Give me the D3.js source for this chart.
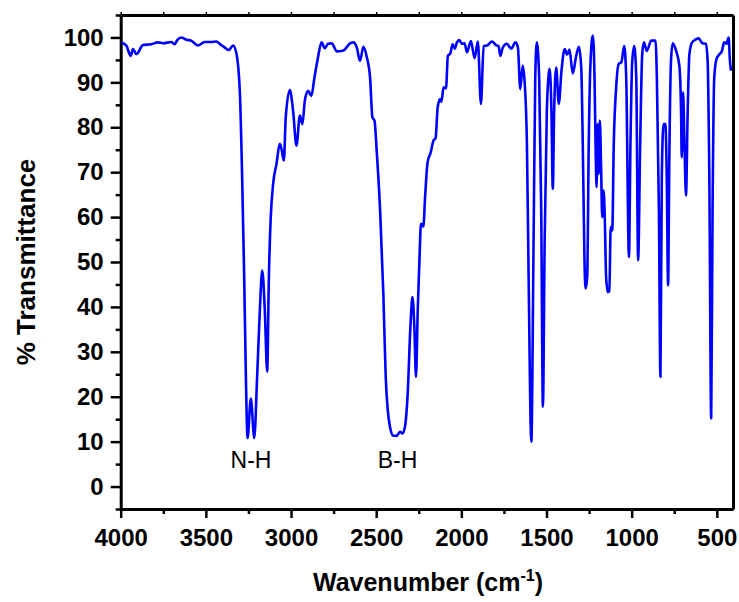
<!DOCTYPE html>
<html>
<head>
<meta charset="utf-8">
<script src="https://cdn.jsdelivr.net/npm/d3@7"></script>
<style>
  body { margin: 0; background: #fff; }
  svg { display: block; font-family: "Liberation Sans", Arial, sans-serif; }
  .axis text { font-size: 24px; font-weight: bold; fill: #000; }
  .axis path, .axis line { stroke: #000; }
</style>
</head>
<body>
<svg width="739" height="602"></svg>
<script>
// IR spectrum (wavenumber in cm-1, % transmittance)
var wavenumber = [
  3996, 3967, 3941, 3928, 3908, 3869, 3820, 3781, 3752, 3703, 3683, 3668, 3644, 3615, 3586,
  3547, 3507, 3469, 3439, 3410, 3390, 3365, 3340, 3320, 3300, 3287, 3275, 3265, 3255, 3236,
  3216, 3199, 3183, 3169, 3154, 3140, 3130, 3119, 3105, 3085, 3066, 3056, 3042, 3031, 3007,
  2988, 2968, 2948, 2933, 2919, 2900, 2880, 2864, 2845, 2821, 2802, 2782, 2761, 2731, 2692,
  2653, 2633, 2614, 2595, 2575, 2555, 2536, 2522, 2510, 2497, 2477, 2458, 2444, 2432, 2419,
  2399, 2380, 2360, 2346, 2331, 2315, 2299, 2287, 2276, 2266, 2256, 2246, 2237, 2223, 2213,
  2198, 2180, 2164, 2151, 2139, 2125, 2117, 2104, 2090, 2079, 2065, 2051, 2039, 2026, 2012,
  1996, 1981, 1967, 1944, 1922, 1903, 1885, 1869, 1850, 1820, 1797, 1781, 1771, 1758, 1733,
  1707, 1683, 1668, 1654, 1640, 1629, 1615, 1605, 1589, 1576, 1566, 1557, 1543, 1531, 1521,
  1511, 1498, 1488, 1482, 1471, 1463, 1455, 1443, 1428, 1412, 1393, 1379, 1365, 1346, 1326,
  1310, 1296, 1287, 1277, 1271, 1261, 1252, 1242, 1228, 1218, 1212, 1206, 1200, 1194, 1187,
  1179, 1173, 1165, 1158, 1150, 1140, 1131, 1123, 1114, 1105, 1091, 1076, 1060, 1044, 1032,
  1016, 1007, 997, 985, 973, 962, 950, 938, 928, 911, 885, 860, 852, 840, 831,
  823, 813, 802, 794, 786, 779, 769, 759, 739, 720, 710, 706, 698, 690, 681,
  671, 661, 645, 622, 607, 584, 564, 554, 544, 533, 525, 515, 502, 486, 470,
  457, 443, 431, 423, 417
];
var transmittance = [
  98.9, 98.2, 95.9, 97.4, 96.3, 98.3, 98.5, 98.9, 98.7, 99.0, 98.5, 99.4, 100, 99.5, 99.3,
  98.2, 99.0, 99.0, 99.1, 98.3, 97.8, 97.2, 98.2, 96.3, 87.4, 68.9, 46.7, 24.4, 10.8, 19.6,
  10.8, 24.4, 39.3, 48.1, 39.3, 25.6, 46.7, 60, 67.4, 71.9, 76.3, 75.2, 72.6, 82.2, 88.3,
  83.7, 75.9, 82.6, 80.7, 85.9, 88.1, 87, 90.7, 94.8, 98.9, 97.6, 98.6, 98.7, 96.9, 97.1,
  98.7, 98.9, 97.8, 94.8, 97.9, 95.6, 91.1, 82.2, 81.5, 74.8, 61.5, 43, 24.4, 17, 13.3,
  11.3, 11.3, 12.2, 11.8, 13.3, 20.7, 35.6, 42.2, 35.6, 24.4, 39.3, 50.4, 58.5, 57.9, 64.4,
  72.2, 74.4, 77, 77.6, 84.4, 86.3, 85.7, 88.9, 88.7, 95.9, 96.4, 98.5, 97.5, 98.9, 99.4,
  98.6, 98.7, 96.7, 99.2, 95.4, 99.1, 85.2, 98.1, 98.2, 99.1, 98.3, 98, 95.9, 97.6, 98.6,
  97.5, 98.9, 97.8, 88.5, 93.7, 90.4, 76.3, 46.7, 10.0, 54.1, 91.1, 98.9, 91.1, 61.5, 17.8,
  54.1, 83.7, 91.5, 93, 83.7, 66.3, 83.7, 93.3, 85.2, 92.6, 97.4, 96.2, 97.3, 92, 95.8,
  97.9, 93.3, 76.3, 50.4, 44.1, 46.7, 76.3, 94.1, 100.4, 91.1, 76.3, 66.7, 80.7, 69.6, 81.5,
  70.4, 60, 65.9, 60, 46.7, 43.3, 43.5, 57.8, 57, 76.3, 88.9, 94.1, 94.5, 98.1, 91.1,
  51.1, 76.3, 94.5, 98.1, 91.1, 50.4, 76.3, 96.3, 98.9, 97, 99.3, 99.3, 91.1, 61.5, 24.4,
  68.9, 80.7, 80.7, 68.9, 44.8, 72.6, 94.8, 98.7, 97, 93.7, 83.7, 73.3, 87.8, 76.3, 64.8,
  83.7, 96.3, 98.9, 99.6, 99.8, 98.7, 98.6, 94.8, 68.9, 15.2, 61.5, 91.1, 95.2, 96.2, 97,
  98.9, 98.6, 100, 94.8, 92.6
];
var xMajorTicks = [4000, 3500, 3000, 2500, 2000, 1500, 1000, 500];
var yMajorTicks = [0, 10, 20, 30, 40, 50, 60, 70, 80, 90, 100];
var bandLabels = [
  { text: "N-H", wn: 3235 },
  { text: "B-H", wn: 2375 }
];

var data = wavenumber.map(function(w, i) {
  return { wn: w, t: transmittance[i] };
});

var svg = d3.select("svg"),
  margin = { top: 15, right: 6, bottom: 93, left: 120.7 },
  width = +svg.attr("width") - margin.left - margin.right,
  height = +svg.attr("height") - margin.top - margin.bottom,
  g = svg.append("g")
    .attr("transform", "translate(" + margin.left + "," + margin.top + ")");

var x = d3.scaleLinear().domain([4000, 405]).range([0, width]),
  y = d3.scaleLinear().domain([-5, 105]).range([height, 0]);

// minor ticks first so the major ones sit on top
g.append("g")
  .attr("class", "axis")
  .attr("transform", "translate(0," + height + ")")
  .call(d3.axisBottom(x).tickValues(d3.range(3750, 500, -500)).tickSize(5).tickSizeOuter(0).tickFormat(""))
  .call(function(a) { a.select(".domain").remove(); });

g.append("g")
  .attr("class", "axis")
  .call(d3.axisLeft(y).tickValues(d3.range(-5, 106, 10)).tickSize(5).tickSizeOuter(0).tickFormat(""))
  .call(function(a) { a.select(".domain").remove(); });

g.append("g")
  .attr("class", "axis")
  .call(d3.axisTop(x).tickValues(d3.range(4000, 404, -250)).tickSize(3).tickSizeOuter(0).tickFormat(""))
  .call(function(a) { a.selectAll("line").attr("stroke-width", 1.5).attr("stroke", "#888"); });

g.append("g")
  .attr("class", "axis")
  .attr("transform", "translate(" + width + ",0)")
  .call(d3.axisRight(y).tickValues([]).tickSizeOuter(0));

g.append("g")
  .attr("class", "axis")
  .attr("transform", "translate(0," + height + ")")
  .call(d3.axisBottom(x).tickValues(xMajorTicks).tickSize(9).tickSizeOuter(0).tickPadding(11).tickFormat(d3.format("d")));

g.append("g")
  .attr("class", "axis")
  .call(d3.axisLeft(y).tickValues(yMajorTicks).tickSize(10).tickSizeOuter(0).tickPadding(7));

g.selectAll(".axis line").attr("stroke-width", function() {
  return this.getAttribute("stroke-width") || 2.5;
});
g.selectAll(".axis .domain").attr("stroke-width", 3);

var line = d3.line()
  .curve(d3.curveMonotoneX)
  .x(function(d) { return x(d.wn); })
  .y(function(d) { return y(d.t); });

g.append("path")
  .datum(data)
  .attr("fill", "none")
  .attr("stroke", "#0000ff")
  .attr("stroke-width", 2.6)
  .attr("stroke-linejoin", "round")
  .attr("d", line);

g.selectAll(".band")
  .data(bandLabels)
  .enter()
  .append("text")
  .attr("class", "band")
  .attr("x", function(d) { return x(d.wn); })
  .attr("y", 453)
  .attr("text-anchor", "middle")
  .attr("font-size", "23px")
  .text(function(d) { return d.text; });

// axis titles
svg.append("text")
  .attr("transform", "translate(35,262) rotate(-90)")
  .attr("text-anchor", "middle")
  .attr("font-size", "26px")
  .attr("font-weight", "bold")
  .text("% Transmittance");

var xt = svg.append("text")
  .attr("x", 428)
  .attr("y", 591)
  .attr("text-anchor", "middle")
  .attr("font-size", "25px")
  .attr("font-weight", "bold");
xt.append("tspan").text("Wavenumber (cm");
xt.append("tspan").attr("font-size", "16px").attr("dy", -10).text("-1");
xt.append("tspan").attr("dy", 10).text(")");
</script>
</body>
</html>
